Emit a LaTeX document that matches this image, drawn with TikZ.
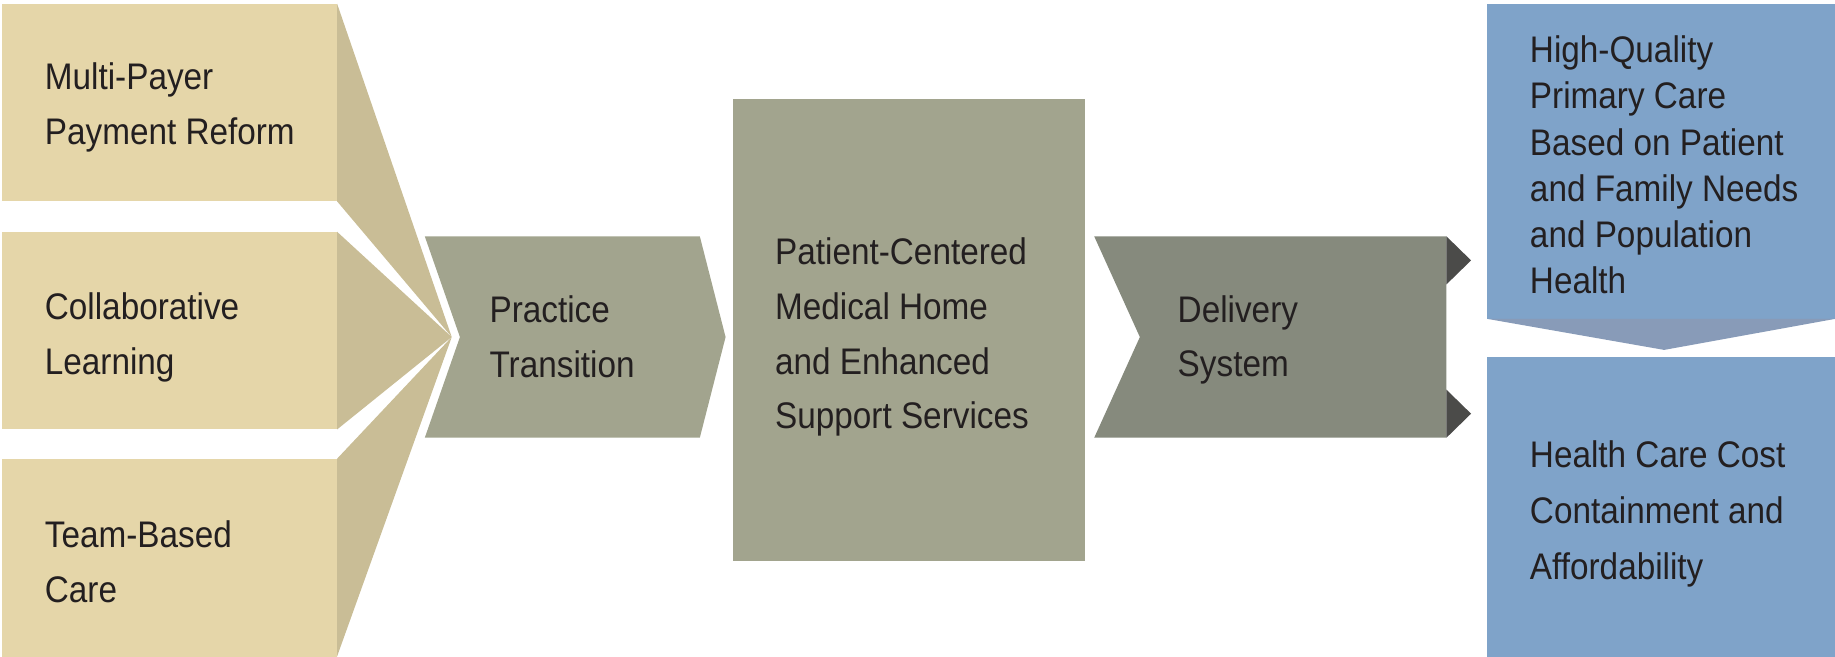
\documentclass[tikz,border=0pt]{standalone}
\usepackage{fontspec}
\newfontfamily\diagfont[FakeStretch=0.9]{Liberation Sans}
\definecolor{tanlight}{HTML}{E5D6A9}
\definecolor{tandark}{HTML}{C9BD96}
\definecolor{sage}{HTML}{A2A48E}
\definecolor{sagedark}{HTML}{868A7D}
\definecolor{charcoal}{HTML}{4B4B49}
\definecolor{bluebox}{HTML}{7FA3C9}
\definecolor{bluearrow}{HTML}{889BB8}
\definecolor{txt}{HTML}{231F20}
\begin{document}
\begin{tikzpicture}[x=0.02cm,y=-0.02cm,
  lbl/.style={anchor=west,align=left,inner sep=0pt,text=txt,font=\diagfont\fontsize{18}{26.65}\selectfont},
  lbltight/.style={lbl,font=\diagfont\fontsize{18}{22.5}\selectfont},
  lblwide/.style={lbl,font=\diagfont\fontsize{18}{27.2}\selectfont}]
\useasboundingbox (0,0) rectangle (1568,561);
% left tan inputs
\fill[tanlight] (2,3) rectangle (288,172);
\fill[tandark] (288,3) -- (386,288) -- (288,172) -- cycle;
\fill[tanlight] (2,198) rectangle (288,367);
\fill[tandark] (288,198) -- (386,288) -- (288,367) -- cycle;
\fill[tanlight] (2,392) rectangle (288,561);
\fill[tandark] (288,392) -- (386,288) -- (288,561) -- cycle;
% practice transition chevron
\fill[sage] (363,202) -- (598,202) -- (620,288) -- (598,374) -- (363,374) -- (393,288) -- cycle;
% PCMH box
\fill[sage] (626,85) rectangle (927,479);
% delivery system chevron
\fill[sagedark] (935,202) -- (1236,202) -- (1236,374) -- (935,374) -- (974,288) -- cycle;
\fill[charcoal] (1236,202) -- (1257,222.5) -- (1236,243) -- cycle;
\fill[charcoal] (1236,333) -- (1257,353.5) -- (1236,374) -- cycle;
% outcomes
\fill[bluebox] (1271,3) rectangle (1568,272.5);
\fill[bluearrow] (1271,272.5) -- (1422,299) -- (1568,272.5) -- cycle;
\fill[bluebox] (1271,305) rectangle (1568,561);
% labels
\node[lbl] (mp) at (38,91.5) {Multi-Payer\\Payment Reform};
\node[lbl] (cl) at (38,288.5) {Collaborative\\Learning};
\node[lbl] (tb) at (38,480) {Team-Based\\Care};
\node[lbl] (pt) at (418,287.5) {Practice\\Transition};
\node[lbl] (pc) at (662,288) {Patient-Centered\\Medical Home\\and Enhanced\\Support Services};
\node[lbl] (ds) at (1006,290.5) {Delivery\\System};
\node[lbltight] (hq) at (1307,141) {High-Quality\\Primary Care\\Based on Patient\\and Family Needs\\and Population\\Health};
\node[lblwide] (hc) at (1307,439) {Health Care Cost\\Containment and\\Affordability};
\end{tikzpicture}
\end{document}
